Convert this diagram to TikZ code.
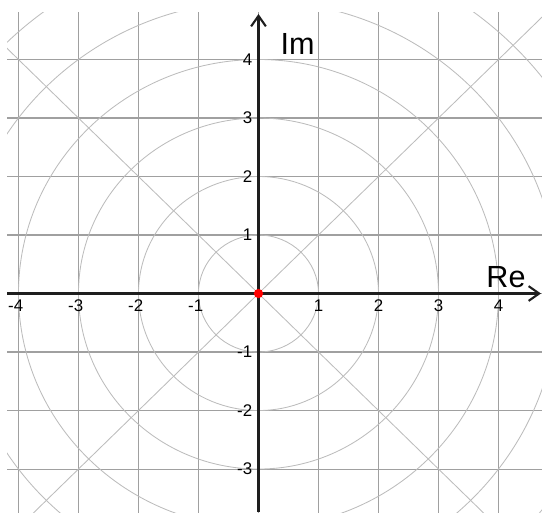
\documentclass[tikz,border=0pt]{standalone}
\usepackage{fontspec}
\setmainfont{Liberation Sans}
\usetikzlibrary{arrows.meta}
\definecolor{gridgray}{RGB}{160,160,160}
\definecolor{ringgray}{RGB}{188,188,188}
\definecolor{axisgray}{RGB}{30,30,30}
\tikzset{
    ticklabel/.style={font=\fontsize{8}{9.5}\selectfont, inner sep=2.8pt},
    axislabel/.style={font=\fontsize{14.5}{17}\selectfont, inner sep=0pt, anchor=base},
    axisline/.style={axisgray, line width=1pt, -{Straight Barb[length=5pt,width=7pt]}}
}
\begin{document}
\begin{tikzpicture}[x=1cm,y=0.975cm]
    \useasboundingbox (-4.308,-3.735) rectangle (4.725,5.017);
    \begin{scope}
        \clip (-4.19,-3.735) rectangle (4.725,4.795);
        \foreach \k in {-4,...,4}
            \draw [gridgray, line width=0.5pt] (\k,-4) -- (\k,5);
        \foreach \k in {-3,...,4}
            \draw [gridgray, line width=0.5pt] (-5,\k) -- (5,\k);
        \foreach \r in {1,...,6}
            \draw [ringgray, line width=0.4pt] (0,0) circle [x radius=\r cm, y radius=\r*0.975cm];
        \draw [ringgray, line width=0.4pt] (-6,-6) -- (6,6);
        \draw [ringgray, line width=0.4pt] (-6,6) -- (6,-6);
    \end{scope}
    \draw [axisline] (-4.19,0) -- (4.708,0);
    \draw [axisline] (0,-3.735) -- (0,4.778);
    \foreach \k in {1,...,4} {
        \node (xp\k) [ticklabel, anchor=north] at (\k,0) {\k};
        \node (xm\k) [ticklabel, anchor=north] at (-\k,0) {\llap{-}\k};
        \node (yp\k) [ticklabel, anchor=east] at (0,\k) {\k};
    }
    \foreach \k in {1,...,3}
        \node (ym\k) [ticklabel, anchor=east] at (0,-\k) {-\k};
    \node (re) [axislabel] at (4.125,0.11) {Re};
    \node (im) [axislabel] at (0.65,4.077) {Im};
    \node (origin) [circle, fill=red, inner sep=0pt, minimum size=4.4pt] at (0,0) {};
\end{tikzpicture}
\end{document}
